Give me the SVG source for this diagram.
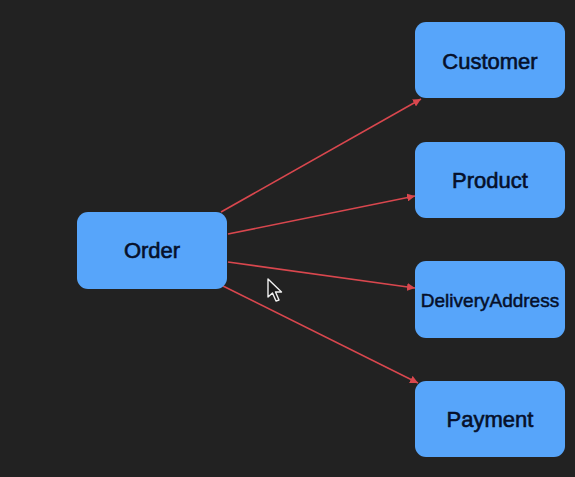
<svg xmlns="http://www.w3.org/2000/svg" width="575" height="477" viewBox="0 0 575 477">
<style>
.node rect{fill:#57a5fa;}
.node text{font-family:"Liberation Sans",Arial,sans-serif;font-size:22px;fill:#06102a;text-anchor:middle;stroke:#06102a;stroke-width:0.6;}
.edge{stroke:#d9474e;stroke-width:1.6;fill:none;marker-end:url(#arr);}
</style>
<defs>
<marker id="arr" viewBox="0 0 10 10" refX="10" refY="5" markerWidth="8" markerHeight="8" markerUnits="userSpaceOnUse" orient="auto">
<path d="M0,0 L10,5 L0,10 Z" fill="#d9474e"/>
</marker>
</defs>
<rect width="575" height="477" fill="#222222"/>
<g id="connectors">
<line class="edge" x1="221" y1="212" x2="421" y2="99"/>
<line class="edge" x1="228" y1="234" x2="415" y2="196"/>
<line class="edge" x1="228" y1="262" x2="415" y2="288"/>
<line class="edge" x1="223" y1="286" x2="418" y2="383"/>
</g>
<g id="order" class="node"><rect x="77" y="212" width="150" height="77" rx="11"/><text x="152" y="258">Order</text></g>
<g id="customer" class="node"><rect x="415" y="22" width="150" height="76" rx="11"/><text x="490" y="69">Customer</text></g>
<g id="product" class="node"><rect x="415" y="142" width="150" height="76" rx="11"/><text x="490" y="188">Product</text></g>
<g id="deliveryaddress" class="node"><rect x="415" y="261" width="150" height="77" rx="11"/><text x="490" y="306.5" style="font-size:19px;stroke-width:0.5">DeliveryAddress</text></g>
<g id="payment" class="node"><rect x="415" y="381" width="150" height="76" rx="11"/><text x="490" y="427">Payment</text></g>
<path d="M268,279 L268,297 L272.5,293 L276,301 L279,300 L275.5,292 L281.5,292 Z" fill="#1a1a1a" stroke="#f0f0f0" stroke-width="1.4" stroke-linejoin="round"/>
</svg>
